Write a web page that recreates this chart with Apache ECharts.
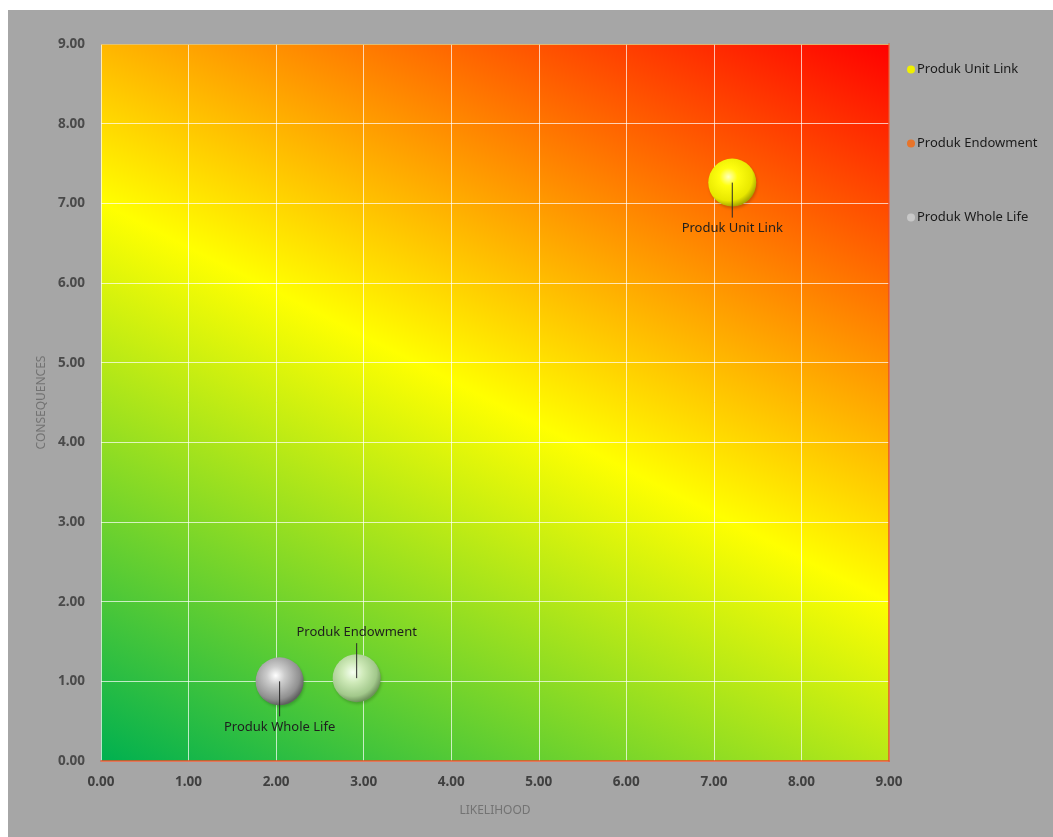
<!DOCTYPE html>
<html>
<head>
<meta charset="utf-8">
<script src="https://cdn.jsdelivr.net/npm/echarts@6/dist/echarts.min.js"></script>
<style>
  html, body { margin: 0; padding: 0; background: #ffffff; width: 1053px; height: 837px; overflow: hidden; }
  #chart { position: absolute; left: 8px; top: 10px; width: 1045px; height: 827px; }
</style>
</head>
<body>
<div id="chart"></div>
<script>
// ---- data ----
const products = ['Produk Unit Link', 'Produk Endowment', 'Produk Whole Life'];
const likelihood = [7.21, 2.92, 2.04];
const consequences = [7.26, 1.04, 1.00];
const axisMin = 0;
const axisMax = 9;
const axisInterval = 1;
const xAxisTitle = 'LIKELIHOOD';
const yAxisTitle = 'CONSEQUENCES';

// ---- styles ----
const FONT = '"Noto Sans", "DejaVu Sans", sans-serif';
const bubbleFills = [
  new echarts.graphic.RadialGradient(0.42, 0.38, 0.62, [
    { offset: 0, color: '#ffffc0' }, { offset: 0.3, color: '#ffff10' },
    { offset: 0.8, color: '#e8e800' }, { offset: 1, color: '#a8a800' }]),
  new echarts.graphic.RadialGradient(0.42, 0.38, 0.62, [
    { offset: 0, color: '#f6fff2' }, { offset: 0.35, color: '#cfeab9' },
    { offset: 0.8, color: '#a2c88b' }, { offset: 1, color: '#6e905c' }]),
  new echarts.graphic.RadialGradient(0.42, 0.38, 0.62, [
    { offset: 0, color: '#ffffff' }, { offset: 0.3, color: '#cccccc' },
    { offset: 0.8, color: '#909090' }, { offset: 1, color: '#606060' }])
];
const legendColors = ['#f0f000', '#e8742a', '#c8c8c8'];
const labelSide = [1, -1, 1]; // 1 = label below bubble, -1 = above

const chart = echarts.init(document.getElementById('chart'), null, { renderer: 'canvas' });

const scatterSeries = products.map((name, i) => ({
  name: name,
  type: 'scatter',
  symbol: 'circle',
  symbolSize: 48,
  data: [[likelihood[i], consequences[i]]],
  itemStyle: {
    color: bubbleFills[i],
    opacity: 1,
    shadowColor: 'rgba(0,0,0,0.2)',
    shadowBlur: 3,
    shadowOffsetX: 1,
    shadowOffsetY: 2
  },
  emphasis: { disabled: true },
  z: 3
}));

const labelSeries = {
  name: 'labels',
  type: 'custom',
  silent: true,
  z: 5,
  data: products.map((p, i) => [likelihood[i], consequences[i], i]),
  renderItem: function (params, api) {
    const i = api.value(2);
    const c = api.coord([api.value(0), api.value(1)]);
    const d = labelSide[i];
    return {
      type: 'group',
      children: [
        {
          type: 'line',
          shape: { x1: c[0], y1: c[1], x2: c[0], y2: c[1] + d * 35 },
          style: { stroke: '#2a2a2a', lineWidth: 1 }
        },
        {
          type: 'text',
          style: {
            x: c[0], y: c[1] + d * 46,
            text: products[i],
            fill: '#1e1e1e',
            font: '13px ' + FONT,
            textAlign: 'center',
            textVerticalAlign: 'middle'
          }
        }
      ]
    };
  }
};

const gridGradient = new echarts.graphic.LinearGradient(0, 1, 0.571, -0.239, [
  { offset: 0, color: '#00b050' },
  { offset: 0.5, color: '#ffff00' },
  { offset: 1, color: '#ff0000' }
]);

const tickFmt = v => v.toFixed(2);

chart.setOption({
  backgroundColor: '#a6a6a6',
  animation: false,
  textStyle: { fontFamily: FONT },
  grid: {
    left: 93, top: 34, width: 788, height: 717,
    show: true,
    backgroundColor: gridGradient,
    borderWidth: 0
  },
  legend: {
    orient: 'vertical',
    left: 894,
    top: 48,
    itemGap: 61,
    itemWidth: 8,
    itemHeight: 8,
    icon: 'circle',
    textStyle: { fontSize: 13, color: '#1a1a1a', fontFamily: FONT, padding: [0, 0, 0, -3] },
    data: products.map((p, i) => ({ name: p, itemStyle: { color: legendColors[i] } }))
  },
  xAxis: [{
    type: 'value',
    min: axisMin, max: axisMax, interval: axisInterval,
    name: xAxisTitle,
    nameLocation: 'middle',
    nameGap: 44,
    nameTextStyle: { fontSize: 12, color: '#737373', fontFamily: FONT },
    axisLine: { show: true, onZero: false, lineStyle: { color: '#e4502c', width: 1.5 } },
    axisTick: { show: false },
    axisLabel: { formatter: tickFmt, margin: 14, fontSize: 13.5, fontWeight: 'bold', color: '#404040', fontFamily: FONT },
    splitLine: { show: true, lineStyle: { color: 'rgba(255,255,255,0.7)', width: 1 } }
  }, {
    type: 'value', position: 'top',
    min: axisMin, max: axisMax, interval: axisInterval,
    axisLine: { show: true, onZero: false, lineStyle: { color: 'rgba(210,170,60,0.6)', width: 1 } },
    axisTick: { show: false }, axisLabel: { show: false }, splitLine: { show: false }
  }],
  yAxis: [{
    type: 'value',
    min: axisMin, max: axisMax, interval: axisInterval,
    name: yAxisTitle,
    nameLocation: 'middle',
    nameGap: 53,
    nameRotate: 90,
    nameTextStyle: { fontSize: 12, color: '#737373', fontFamily: FONT },
    axisLine: { show: false, onZero: false },
    axisTick: { show: false },
    axisLabel: { formatter: tickFmt, margin: 16, fontSize: 13.5, fontWeight: 'bold', color: '#4a4a4a', fontFamily: FONT },
    splitLine: { show: true, lineStyle: { color: 'rgba(255,255,255,0.7)', width: 1 } }
  }, {
    type: 'value', position: 'right',
    min: axisMin, max: axisMax, interval: axisInterval,
    axisLine: { show: true, onZero: false, lineStyle: { color: '#e4502c', width: 1.5 } },
    axisTick: { show: false }, axisLabel: { show: false }, splitLine: { show: false }
  }],
  series: scatterSeries.concat([labelSeries])
});
</script>
</body>
</html>
